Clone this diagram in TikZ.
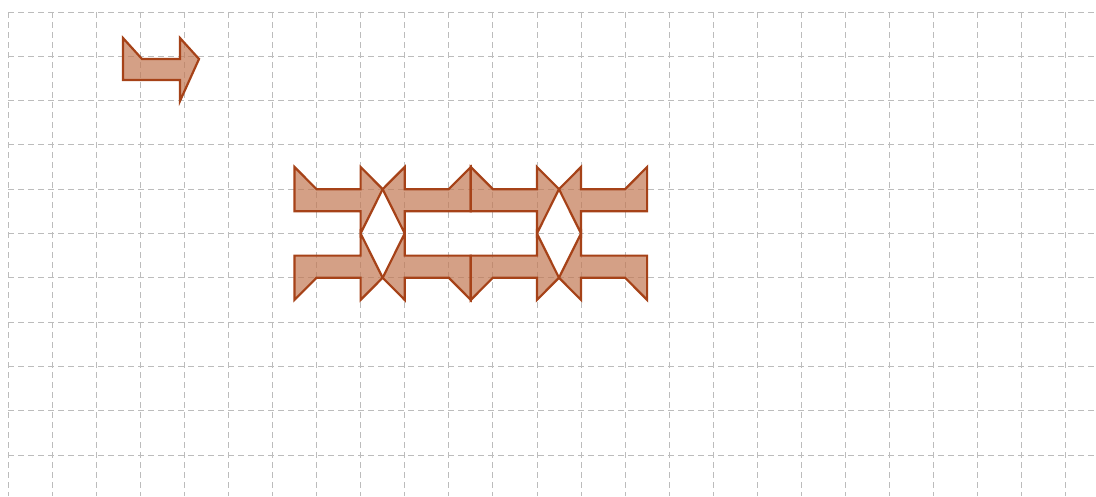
\documentclass[tikz,border=0pt]{standalone}
\usetikzlibrary{calc}
\definecolor{shapefill}{RGB}{194,121,84}
\definecolor{shapeline}{RGB}{166,66,24}
\definecolor{gridgray}{RGB}{188,188,188}
\tikzset{
  gridline/.style={draw=gridgray, line width=0.9pt, dash pattern=on 6pt off 4pt},
  arrowpoly/.style={fill=shapefill, fill opacity=0.7, draw=shapeline, line width=2.2pt, line join=miter},
  bentarrow/.pic={\path[arrowpoly] (0,0)--(1,1)--(3,1)--(3,0)--(4,1)--(3,3)--(3,2)--(0,2)--cycle;}
}
\begin{document}
\begin{tikzpicture}[x=1pt,y=-1pt]
\useasboundingbox[fill=white] (0,0) rectangle (1096,496);
% grid
\foreach \k in {0,...,24}{
  \draw[gridline] ({8+44.08*\k},12) -- ({8+44.08*\k},496);
}
\foreach \k in {0,...,10}{
  \draw[gridline] (8,{12+44.3*\k}) -- (1096,{12+44.3*\k});
}
% small arrow
\begin{scope}[shift={(123,38)}, x=19pt, y=-21pt]
  \pic {bentarrow};
\end{scope}
% big pattern
\begin{scope}[shift={(294.5,167)}, x=22.04pt, y=-22.15pt]
  \pic at (0,0) {bentarrow};
  \pic[xscale=-1] at (8,0) {bentarrow};
  \pic at (8,0) {bentarrow};
  \pic[xscale=-1] at (16,0) {bentarrow};
  \pic[yscale=-1] at (0,6) {bentarrow};
  \pic[xscale=-1,yscale=-1] at (8,6) {bentarrow};
  \pic[yscale=-1] at (8,6) {bentarrow};
  \pic[xscale=-1,yscale=-1] at (16,6) {bentarrow};
\end{scope}
\end{tikzpicture}
\end{document}
